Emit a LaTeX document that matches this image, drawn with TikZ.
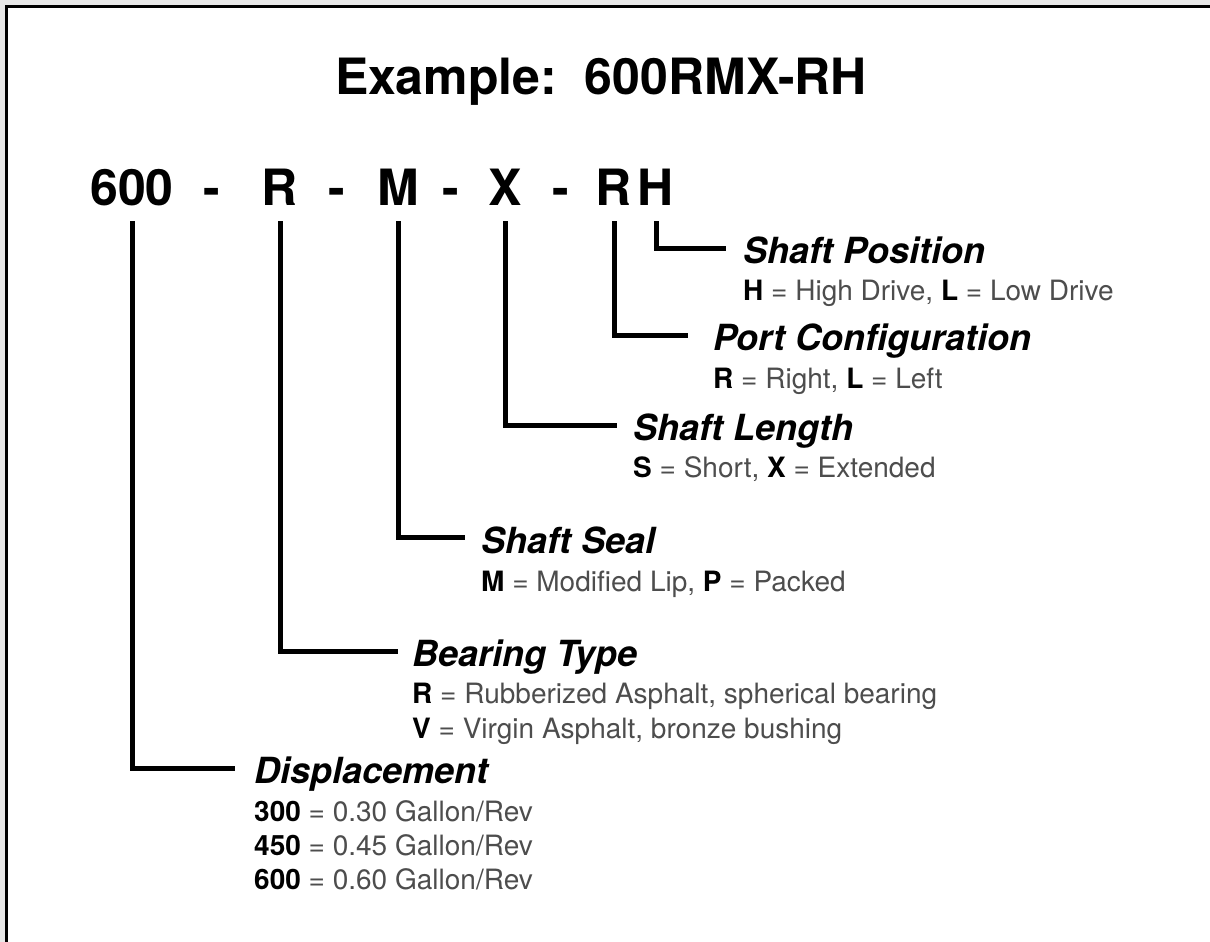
\documentclass[tikz,border=0pt]{standalone}
\usepackage{fontspec}
\setmainfont{TeX Gyre Heros}
\usepackage{tikz}

\definecolor{descgray}{HTML}{4D4D4D}
\newcommand{\codekey}[1]{\textcolor{black}{\textbf{#1}}}

\begin{document}
\begin{tikzpicture}[x=1pt,y=-1pt,
  code/.style={anchor=base,inner sep=0pt,outer ysep=16pt,font=\fontsize{50}{60}\selectfont\bfseries},
  head/.style={anchor=base west,inner sep=0pt,font=\fontsize{36}{43}\selectfont\bfseries\itshape},
  desc/.style={anchor=base west,inner sep=0pt,text=descgray,font=\fontsize{28}{34}\selectfont},
  leader/.style={line width=5pt}]
  \useasboundingbox (0,0) rectangle (1210,942);
  \fill[gray!18] (0,0) rectangle (1210,942);
  \fill[white] (7,7) rectangle (1210,942);
  \draw[line width=3pt] (6.5,942) -- (6.5,6.5) -- (1210,6.5);

  \node[code] (title) at (601,95) {Example:\ \ 600RMX-RH};

  % model code
  \node[code] (c600) at (132,205) {600};
  \node[code] (d1) at (212,205) {-};
  \node[code] (cR) at (280,205) {R};
  \node[code] (d2) at (337,205) {-};
  \node[code] (cM) at (398,205) {M};
  \node[code] (d3) at (451,205) {-};
  \node[code] (cX) at (505,205) {X};
  \node[code] (d4) at (561,205) {-};
  \node[code] (cP) at (614,205) {R};
  \node[code] (cH) at (656,205) {H};

  % fields
  \node[head] (pos) at (743,263) {Shaft Position};
  \node[desc] (posd) at (743,300) {\codekey{H} = High Drive, \codekey{L} = Low Drive};

  \node[head] (port) at (713,350) {Port Configuration};
  \node[desc] (portd) at (713,388) {\codekey{R} = Right, \codekey{L} = Left};

  \node[head] (len) at (633,440) {Shaft Length};
  \node[desc] (lend) at (633,477) {\codekey{S} = Short, \codekey{X} = Extended};

  \node[head] (seal) at (481,553) {Shaft Seal};
  \node[desc] (seald) at (481,591) {\codekey{M} = Modified Lip, \codekey{P} = Packed};

  \node[head] (bear) at (412,666) {Bearing Type};
  \node[desc] (beard1) at (412,703) {\codekey{R} = Rubberized Asphalt, spherical bearing};
  \node[desc] (beard2) at (412,738) {\codekey{V} = Virgin Asphalt, bronze bushing};

  \node[head] (disp) at (254,783) {Displacement};
  \node[desc] (dispd1) at (254,821) {\codekey{300} = 0.30 Gallon/Rev};
  \node[desc] (dispd2) at (254,855) {\codekey{450} = 0.45 Gallon/Rev};
  \node[desc] (dispd3) at (254,889) {\codekey{600} = 0.60 Gallon/Rev};

  % leaders
  \draw[leader] (cH.south) |- ([xshift=-17pt,yshift=15pt]pos.base west);
  \draw[leader] (cP.south) |- ([xshift=-25pt,yshift=15pt]port.base west);
  \draw[leader] (cX.south) |- ([xshift=-16pt,yshift=15pt]len.base west);
  \draw[leader] (cM.south) |- ([xshift=-16pt,yshift=16pt]seal.base west);
  \draw[leader] (cR.south) |- ([xshift=-14pt,yshift=15pt]bear.base west);
  \draw[leader] (c600.south) |- ([xshift=-19pt,yshift=15pt]disp.base west);
\end{tikzpicture}
\end{document}
